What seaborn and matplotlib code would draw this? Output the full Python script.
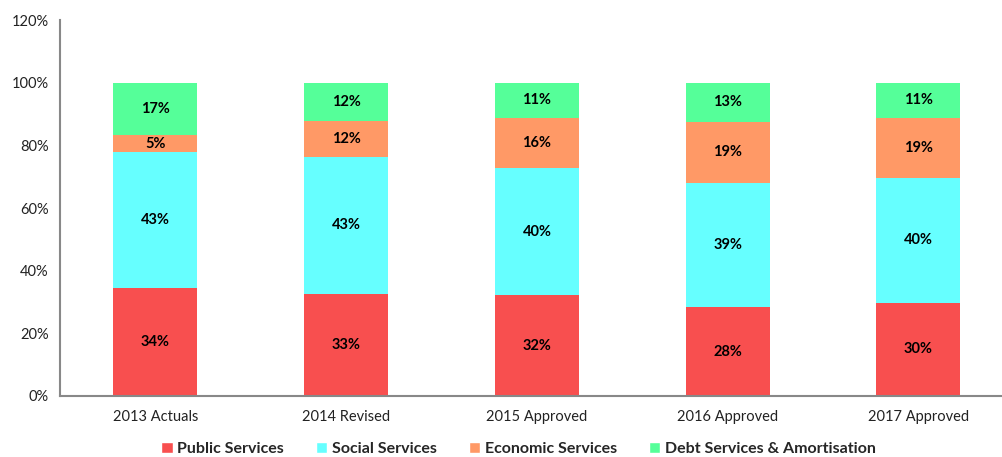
import numpy as np
import pandas as pd
import seaborn as sns
import matplotlib.pyplot as plt
from matplotlib.patches import Patch

years = ["2013 Actuals", "2014 Revised", "2015 Approved", "2016 Approved", "2017 Approved"]
public = [34.5, 32.6, 32.2, 28.4, 29.7]
social = [43.4, 43.7, 40.6, 39.6, 39.9]
economic = [5.4, 11.5, 15.9, 19.5, 19.1]
debt = [16.7, 12.2, 11.3, 12.5, 11.3]

labels_public = ["34%", "33%", "32%", "28%", "30%"]
labels_social = ["43%", "43%", "40%", "39%", "40%"]
labels_economic = ["5%", "12%", "16%", "19%", "19%"]
labels_debt = ["17%", "12%", "11%", "13%", "11%"]

series = ["Public Services", "Social Services", "Economic Services", "Debt Services & Amortisation"]
colors = ["#F84F4F", "#66FFFF", "#FF9966", "#55FF99"]

df = pd.DataFrame({"year": years, "Public Services": public, "Social Services": social,
                   "Economic Services": economic, "Debt Services & Amortisation": debt})

sns.set_style("white")
plt.rcParams["font.family"] = ["Lato", "DejaVu Sans"]

fig = plt.figure(figsize=(10.03, 4.57), dpi=100)
ax = fig.add_axes([0.0598, 0.1335, 0.951, 0.8225])

# stacked bars: draw cumulative totals, tallest first
cum = df[series].cumsum(axis=1)
for s, c in reversed(list(zip(series, colors))):
    sns.barplot(data=cum.assign(year=df["year"]), x="year", y=s, color=c,
                width=0.44, saturation=1, linewidth=0, ax=ax)

all_labels = [labels_public, labels_social, labels_economic, labels_debt]
for i, s in enumerate(series):
    bottoms = cum[s] - df[s]
    for j in range(len(years)):
        ax.text(j, bottoms[j] + df[s][j] / 2, all_labels[i][j], ha="center", va="center",
                fontsize=10.5, fontweight="bold", color="black")

ax.set_ylim(0, 120)
ax.set_xlim(-0.5, 4.5)
ax.set_yticks(range(0, 121, 20))
ax.set_yticklabels([f"{v}%" for v in range(0, 121, 20)], fontsize=10.5, color="#222222")
ax.tick_params(axis="x", labelsize=10.5, colors="#222222", length=0, pad=10)
ax.tick_params(axis="y", length=0, pad=8)
ax.set_xlabel("")
ax.set_ylabel("")
for sp in ["top", "right"]:
    ax.spines[sp].set_visible(False)
for sp in ["left", "bottom"]:
    ax.spines[sp].set_color("#888888")
    ax.spines[sp].set_linewidth(1.5)

handles = [Patch(facecolor=c, label=s) for s, c in zip(series, colors)]
fig.legend(handles=handles, loc="center", bbox_to_anchor=(0.517, 0.017), ncol=4,
           frameon=False, handlelength=0.7, handleheight=0.7, handletextpad=0.3,
           columnspacing=2.0, prop={"weight": "bold", "size": 11.5})

fig.savefig("out.png", dpi=100)
